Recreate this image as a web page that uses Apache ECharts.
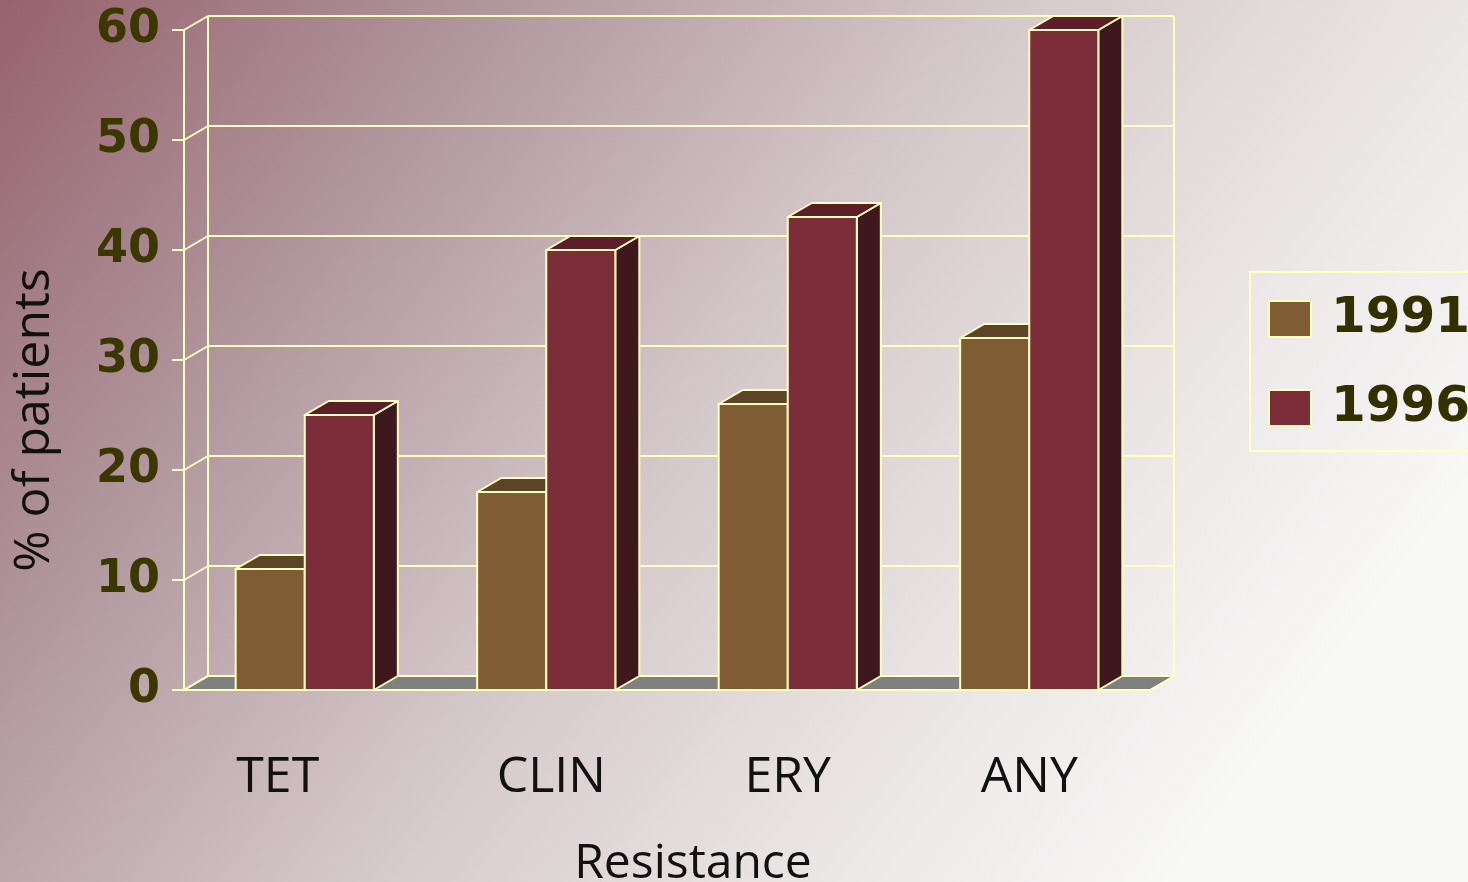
<!DOCTYPE html>
<html>
<head>
<meta charset="utf-8">
<title>Resistance</title>
<script src="https://cdn.jsdelivr.net/npm/echarts@6/dist/echarts.min.js"></script>
<style>
  html, body { margin: 0; padding: 0; }
  #chart { width: 1468px; height: 882px; }
</style>
</head>
<body>
<div id="chart"></div>
<script>
// Share of patients with resistance, by agent and survey year
const categories = ['TET', 'CLIN', 'ERY', 'ANY'];
const years = ['1991', '1996'];
const values1991 = [11, 18, 26, 32];
const values1996 = [25, 40, 43, 60];
const yTicks = [0, 10, 20, 30, 40, 50, 60];

// depth offset of the pseudo-3D box (pixels)
const DX = 24, DY = -14;
const EDGE = '#FFFFC0';

const palette = {
  '1991': { front: '#7F5C33', top: '#5E4427', side: '#4A3520' },
  '1996': { front: '#7B2D3A', top: '#5C1F2A', side: '#3F181E' }
};

function barRenderer(slot, col) {
  return function (params, api) {
    const cat = api.value(0), v = api.value(1);
    const base = api.coord([cat, 0]);
    const top = api.coord([cat, v]);
    const band = api.size([1, 0])[0];
    const w = band * 0.286;
    const x0 = slot === 0 ? base[0] - w : base[0];
    const x1 = x0 + w;
    const y0 = base[1], y1 = top[1];
    const stroke = { stroke: EDGE, lineWidth: 2, lineJoin: 'round' };
    return {
      type: 'group',
      children: [
        { type: 'polygon', shape: { points: [[x1, y0], [x1, y1], [x1 + DX, y1 + DY], [x1 + DX, y0 + DY]] },
          style: Object.assign({ fill: col.side }, stroke) },
        { type: 'polygon', shape: { points: [[x0, y1], [x1, y1], [x1 + DX, y1 + DY], [x0 + DX, y1 + DY]] },
          style: Object.assign({ fill: col.top }, stroke) },
        { type: 'rect', shape: { x: x0, y: y1, width: w, height: y0 - y1 },
          style: Object.assign({ fill: col.front }, stroke) }
      ]
    };
  };
}

// back wall, floor and the links between front ticks and back grid lines
function frameRenderer(params, api) {
  const cs = params.coordSys;
  const left = cs.x, right = cs.x + cs.width;
  const yBottom = api.coord([0, yTicks[0]])[1];
  const yTop = api.coord([0, yTicks[yTicks.length - 1]])[1];
  const line = { stroke: EDGE, lineWidth: 2 };
  const children = [
    { type: 'polygon', shape: { points: [[left, yBottom], [right, yBottom], [right + DX, yBottom + DY], [left + DX, yBottom + DY]] },
      style: { fill: '#808080', stroke: EDGE, lineWidth: 2 } },
    { type: 'line', shape: { x1: left + DX, y1: yTop + DY, x2: left + DX, y2: yBottom + DY }, style: line },
    { type: 'line', shape: { x1: right + DX, y1: yTop + DY, x2: right + DX, y2: yBottom + DY }, style: line }
  ];
  yTicks.forEach(function (t) {
    const y = api.coord([0, t])[1];
    children.push({ type: 'line', shape: { x1: left + DX, y1: y + DY, x2: right + DX, y2: y + DY }, style: line });
    children.push({ type: 'line', shape: { x1: left, y1: y, x2: left + DX, y2: y + DY }, style: line });
  });
  return { type: 'group', children: children };
}

const chart = echarts.init(document.getElementById('chart'));
chart.setOption({
  animation: false,
  backgroundColor: new echarts.graphic.LinearGradient(0, 0, 0.8, 1, [
    { offset: 0, color: '#96626D' },
    { offset: 0.3, color: '#B49CA2' },
    { offset: 0.55, color: '#D5C8CA' },
    { offset: 0.8, color: '#EBE6E6' },
    { offset: 1, color: '#F8F8F7' }
  ]),
  grid: { left: 184, right: 318, top: 30, bottom: 192, outerBoundsMode: 'none', containLabel: false },
  legend: {
    orient: 'vertical',
    left: 1250,
    top: 272,
    padding: [22, 40, 18, 18],
    borderColor: EDGE,
    borderWidth: 2,
    backgroundColor: 'rgba(255,255,255,0.06)',
    itemWidth: 42,
    itemHeight: 36,
    itemGap: 39,
    icon: 'rect',
    itemStyle: { borderColor: EDGE, borderWidth: 2 },
    textStyle: {
      fontFamily: 'DejaVu Sans',
      fontWeight: 'bold',
      fontSize: 50,
      lineHeight: 42,
      color: '#333000',
      padding: [8, 0, 0, 15]
    },
    data: years
  },
  xAxis: {
    type: 'category',
    data: [
      { value: categories[0], textStyle: { padding: [0, 54, 0, 0] } },
      { value: categories[1], textStyle: { padding: [0, 0, 0, 10] } },
      categories[2],
      categories[3]
    ],
    name: 'Resistance',
    nameLocation: 'middle',
    nameGap: 150,
    nameTextStyle: { fontFamily: 'Open Sans', fontSize: 48, color: '#111', padding: [0, 0, 0, 52] },
    axisLine: { show: true, lineStyle: { color: EDGE, width: 2 } },
    axisTick: { show: false },
    axisLabel: { margin: 63, fontFamily: 'Open Sans', fontSize: 50, color: '#111' },
    splitLine: { show: false }
  },
  yAxis: {
    type: 'value',
    min: 0,
    max: 60,
    interval: 10,
    name: '% of patients',
    nameLocation: 'middle',
    nameGap: 124,
    nameTextStyle: { fontFamily: 'Open Sans', fontSize: 50, color: '#111', padding: [0, 120, 0, 0] },
    axisLine: { show: true, lineStyle: { color: EDGE, width: 2 } },
    axisTick: { show: true, length: 12, lineStyle: { color: EDGE, width: 2 } },
    axisLabel: { margin: 24, fontFamily: 'DejaVu Sans', fontWeight: 'bold', fontSize: 46, color: '#3A3800' },
    splitLine: { show: false }
  },
  series: [
    {
      type: 'custom',
      name: 'frame',
      renderItem: frameRenderer,
      data: [[0, 0]],
      silent: true,
      z: 1
    },
    {
      type: 'custom',
      name: years[0],
      itemStyle: { color: palette['1991'].front },
      renderItem: barRenderer(0, palette['1991']),
      data: values1991.map(function (v, i) { return [i, v]; }),
      z: 3
    },
    {
      type: 'custom',
      name: years[1],
      itemStyle: { color: palette['1996'].front },
      renderItem: barRenderer(1, palette['1996']),
      data: values1996.map(function (v, i) { return [i, v]; }),
      z: 3
    }
  ]
});
</script>
</body>
</html>
